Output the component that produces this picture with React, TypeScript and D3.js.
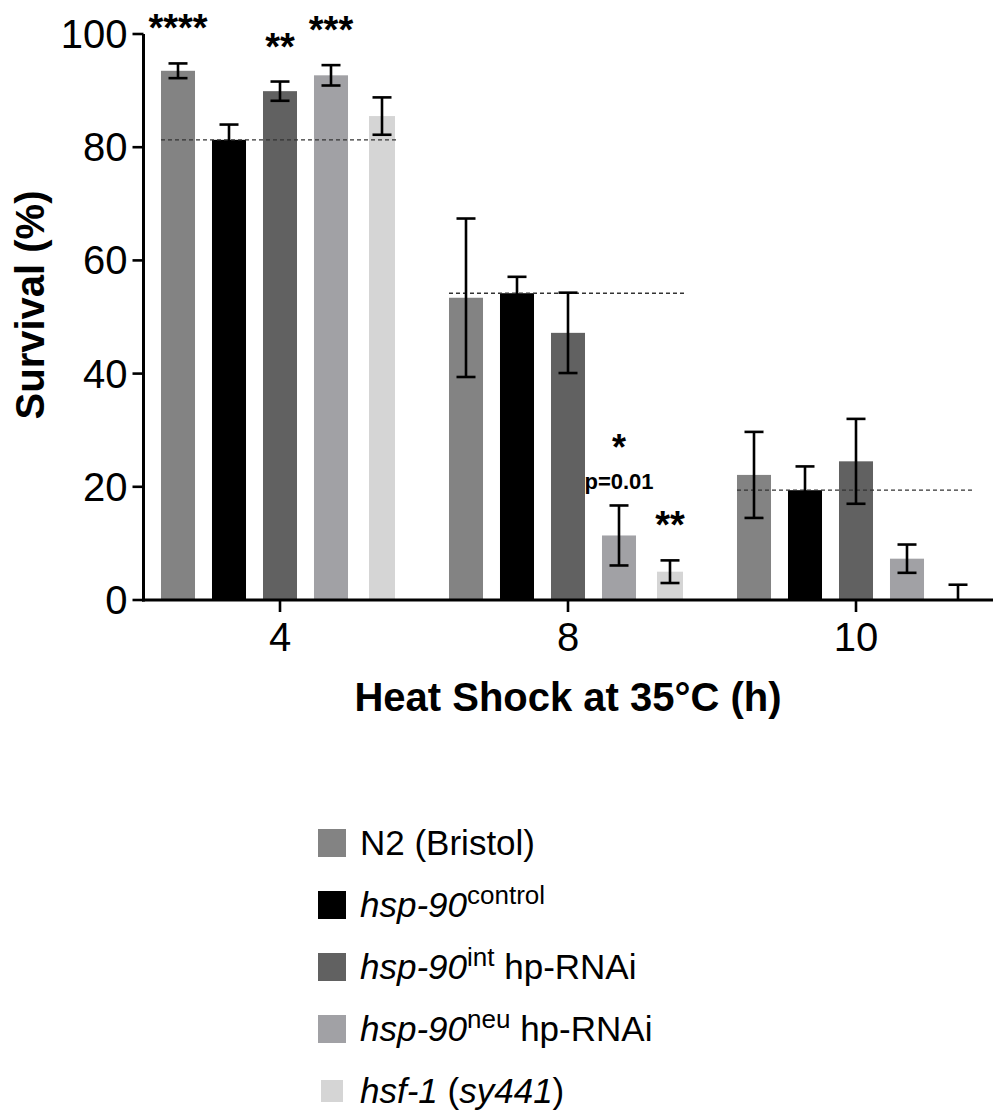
import React from "react";
import * as d3 from "d3";

// Heat shock duration groups (h)
const groups = ["4", "8", "10"];
// Strains
const seriesKeys = ["n2", "control", "int", "neu", "hsf"];
const seriesColors = ["#838383", "#000000", "#616161", "#a1a1a5", "#d5d5d5"];

// Mean survival (%) per group for each strain
const n2Mean = [93.5, 53.4, 22.1];
const controlMean = [81.3, 54.2, 19.4];
const intMean = [89.9, 47.2, 24.5];
const neuMean = [92.7, 11.4, 7.3];
const hsfMean = [85.5, 5.0, 0];

// Error (SEM) per group for each strain
const n2Err = [1.3, 14.0, 7.6];
const controlErr = [2.7, 2.9, 4.2];
const intErr = [1.7, 7.1, 7.5];
const neuErr = [1.8, 5.3, 2.5];
const hsfErr = [3.3, 2.0, 2.7];

const yTicks = [0, 20, 40, 60, 80, 100];

// Significance marks: [group, strain, stars, p-value text]
const marks: [string, string, string, string][] = [
  ["4", "n2", "****", ""],
  ["4", "int", "**", ""],
  ["4", "neu", "***", ""],
  ["8", "neu", "*", "p=0.01"],
  ["8", "hsf", "**", ""],
];

const means = [n2Mean, controlMean, intMean, neuMean, hsfMean];
const errs = [n2Err, controlErr, intErr, neuErr, hsfErr];

const FONT = "'Liberation Sans', Arial, Helvetica, sans-serif";

export default function App() {
  const W = 993;
  const H = 1113;
  const axisX = 143.5;
  const axisY = 600;

  const y = d3.scaleLinear().domain([0, 100]).range([axisY, 34]);
  const x0 = d3.scaleBand<string>().domain(groups).range([136, 1000]);
  const x1 = d3
    .scaleBand<string>()
    .domain(seriesKeys)
    .range([0, x0.bandwidth()])
    .paddingInner(0.333)
    .paddingOuter(0.49);

  const barInset = (k: string) => (k === "hsf" ? 4 : 0);

  const errTop = (g: string, k: string) => {
    const gi = groups.indexOf(g);
    const si = seriesKeys.indexOf(k);
    return y(means[si][gi] + errs[si][gi]);
  };
  const barCenter = (g: string, k: string) =>
    (x0(g) as number) + (x1(k) as number) + x1.bandwidth() / 2;

  const legendRows = [
    { key: "n2", y: 843 },
    { key: "control", y: 905 },
    { key: "int", y: 967 },
    { key: "neu", y: 1029 },
    { key: "hsf", y: 1091 },
  ];

  const legendText = (key: string) => {
    const sup = (t: string) => (
      <>
        <tspan fontStyle="italic">hsp-90</tspan>
        <tspan fontSize={26} dy={-13}>
          {t}
        </tspan>
      </>
    );
    switch (key) {
      case "n2":
        return <tspan>N2 (Bristol)</tspan>;
      case "control":
        return sup("control");
      case "int":
        return (
          <>
            {sup("int")}
            <tspan dy={13}> hp-RNAi</tspan>
          </>
        );
      case "neu":
        return (
          <>
            {sup("neu")}
            <tspan dy={13}> hp-RNAi</tspan>
          </>
        );
      default:
        return (
          <>
            <tspan fontStyle="italic">hsf-1</tspan>
            <tspan> (</tspan>
            <tspan fontStyle="italic">sy441</tspan>
            <tspan>)</tspan>
          </>
        );
    }
  };

  return (
    <svg
      width={W}
      height={H}
      viewBox={`0 0 ${W} ${H}`}
      style={{ position: "absolute", left: 0, top: 0, background: "#fff" }}
      fontFamily={FONT}
    >
      {/* bars */}
      {groups.map((g, gi) => (
        <g key={g} transform={`translate(${x0(g)},0)`}>
          {seriesKeys.map((k, si) => {
            const v = means[si][gi];
            const ins = barInset(k);
            return (
              <rect
                key={k}
                x={(x1(k) as number) + ins}
                y={y(v)}
                width={x1.bandwidth() - 2 * ins}
                height={axisY - y(v)}
                fill={seriesColors[si]}
              />
            );
          })}
        </g>
      ))}

      {/* control reference lines */}
      {groups.map((g, gi) => {
        const left = (x0(g) as number) + (x1("n2") as number);
        const right = (x0(g) as number) + (x1("hsf") as number) + x1.bandwidth();
        return (
          <line
            key={"ref" + g}
            x1={left}
            x2={right}
            y1={y(controlMean[gi])}
            y2={y(controlMean[gi])}
            stroke="#333"
            strokeWidth={1.3}
            strokeDasharray="4,3"
          />
        );
      })}

      {/* error bars */}
      {groups.map((g, gi) =>
        seriesKeys.map((k, si) => {
          const m = means[si][gi];
          const e = errs[si][gi];
          const cx = barCenter(g, k);
          const lo = y(Math.max(0, m - e));
          const hi = y(m + e);
          const cap = 9.5;
          return (
            <g key={"e" + g + k} stroke="#000" strokeWidth={2.6}>
              <line x1={cx} x2={cx} y1={lo} y2={hi} />
              <line x1={cx - cap} x2={cx + cap} y1={hi} y2={hi} />
              {m - e > 0 && <line x1={cx - cap} x2={cx + cap} y1={lo} y2={lo} />}
            </g>
          );
        })
      )}

      {/* axes */}
      <line x1={axisX} x2={axisX} y1={y(100)} y2={axisY + 1.5} stroke="#000" strokeWidth={3} />
      <line x1={axisX - 1.5} x2={W} y1={axisY} y2={axisY} stroke="#000" strokeWidth={3} />
      {yTicks.map((t) => (
        <g key={"yt" + t}>
          <line x1={axisX - 11} x2={axisX} y1={y(t)} y2={y(t)} stroke="#000" strokeWidth={2.6} />
          <text x={axisX - 16} y={y(t) + 14} textAnchor="end" fontSize={40} fill="#000">
            {t}
          </text>
        </g>
      ))}
      {groups.map((g) => {
        const cx = (x0(g) as number) + x0.bandwidth() / 2;
        return (
          <g key={"xt" + g}>
            <line x1={cx} x2={cx} y1={axisY} y2={axisY + 12} stroke="#000" strokeWidth={2.6} />
            <text x={cx} y={651} textAnchor="middle" fontSize={40} fill="#000">
              {g}
            </text>
          </g>
        );
      })}

      {/* axis titles */}
      <text x={568} y={711} textAnchor="middle" fontSize={40} fontWeight="bold" fill="#000">
        Heat Shock at 35°C (h)
      </text>
      <text
        transform="translate(44,305) rotate(-90)"
        textAnchor="middle"
        fontSize={40}
        fontWeight="bold"
        fill="#000"
      >
        Survival (%)
      </text>

      {/* significance marks */}
      {marks.map(([g, k, stars, p]) => {
        const cx = barCenter(g, k);
        const top = errTop(g, k);
        if (p) {
          // star stacked above the p-value
          return (
            <g key={"m" + g + k} fontWeight="bold" fill="#000">
              <text x={cx} y={top - 45} textAnchor="middle" fontSize={36}>
                {stars}
              </text>
              <text x={cx} y={top - 16} textAnchor="middle" fontSize={22}>
                {p}
              </text>
            </g>
          );
        }
        return (
          <text
            key={"m" + g + k}
            x={cx}
            y={top - 44 + 22}
            textAnchor="middle"
            fontSize={38}
            fontWeight="bold"
          >
            {stars}
          </text>
        );
      })}

      {/* legend */}
      {legendRows.map((r) => {
        const si = seriesKeys.indexOf(r.key);
        const s = r.key === "hsf" ? 22 : 28;
        const sx = r.key === "hsf" ? 321 : 318;
        return (
          <g key={"lg" + r.key}>
            <rect x={sx} y={r.y - s / 2} width={s} height={s} fill={seriesColors[si]} />
            <text x={360} y={r.y + 12} fontSize={35} fill="#000">
              {legendText(r.key)}
            </text>
          </g>
        );
      })}
    </svg>
  );
}
